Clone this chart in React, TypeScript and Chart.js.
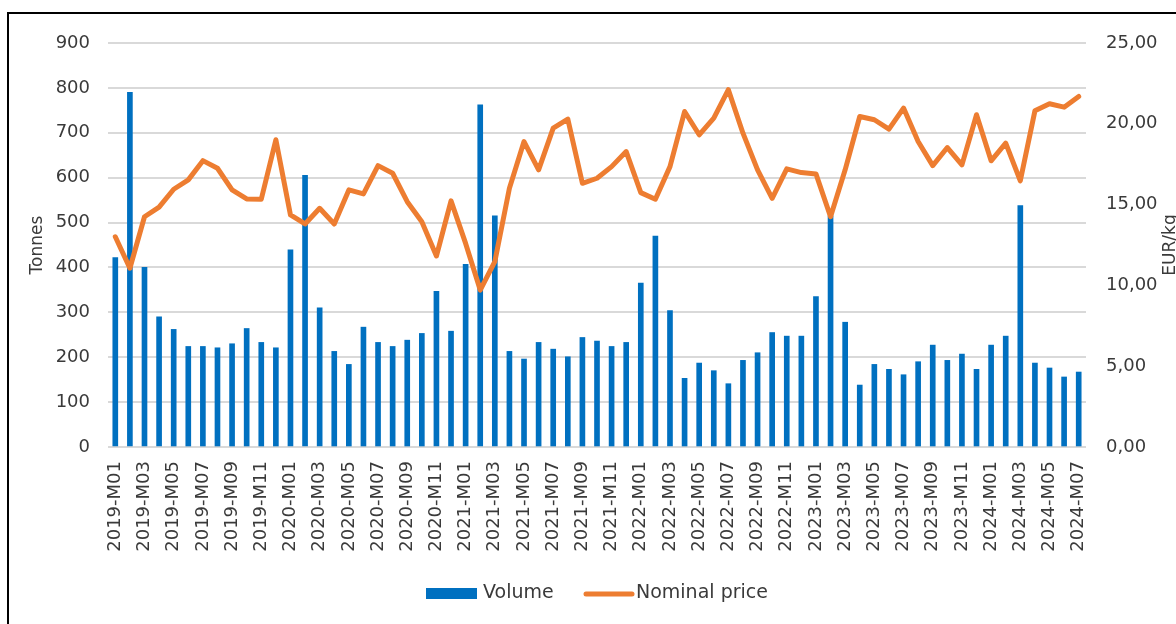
import React, { useEffect, useRef } from "react";
import { Chart, registerables } from "chart.js";

Chart.register(...registerables);

const categories: string[] = [
  "2019-M01","2019-M02","2019-M03","2019-M04","2019-M05","2019-M06","2019-M07","2019-M08","2019-M09","2019-M10","2019-M11","2019-M12",
  "2020-M01","2020-M02","2020-M03","2020-M04","2020-M05","2020-M06","2020-M07","2020-M08","2020-M09","2020-M10","2020-M11","2020-M12",
  "2021-M01","2021-M02","2021-M03","2021-M04","2021-M05","2021-M06","2021-M07","2021-M08","2021-M09","2021-M10","2021-M11","2021-M12",
  "2022-M01","2022-M02","2022-M03","2022-M04","2022-M05","2022-M06","2022-M07","2022-M08","2022-M09","2022-M10","2022-M11","2022-M12",
  "2023-M01","2023-M02","2023-M03","2023-M04","2023-M05","2023-M06","2023-M07","2023-M08","2023-M09","2023-M10","2023-M11","2023-M12",
  "2024-M01","2024-M02","2024-M03","2024-M04","2024-M05","2024-M06","2024-M07",
];

const volume: number[] = [
  422, 790, 400, 290, 262, 224, 224, 221, 230, 264, 233, 221,
  439, 605, 310, 213, 184, 267, 233, 224, 238, 253, 347, 258,
  407, 762, 515, 213, 196, 233, 218, 201, 244, 236, 224, 233,
  365, 470, 304, 153, 187, 170, 141, 193, 210, 255, 247, 247,
  335, 515, 278, 138, 184, 173, 161, 190, 227, 193, 207, 173,
  227, 247, 538, 187, 176, 156, 167,
];

const nominalPrice: number[] = [
  13.01, 11.06, 14.25, 14.84, 15.95, 16.53, 17.72, 17.25, 15.91, 15.35, 15.33, 19.01,
  14.36, 13.8, 14.77, 13.8, 15.91, 15.66, 17.41, 16.94, 15.18, 13.94, 11.82, 15.23,
  12.6, 9.71, 11.47, 16.01, 18.9, 17.15, 19.73, 20.29, 16.32, 16.63, 17.35, 18.28,
  15.74, 15.33, 17.35, 20.76, 19.32, 20.35, 22.11, 19.42, 17.15, 15.39, 17.21, 16.98,
  16.9, 14.25, 17.15, 20.45, 20.25, 19.67, 20.97, 18.9, 17.41, 18.53, 17.46, 20.56,
  17.71, 18.8, 16.47, 20.8, 21.24, 21.03, 21.69,
];

const leftTitle = "Tonnes";
const rightTitle = "EUR/kg";
const volumeLabel = "Volume";
const priceLabel = "Nominal price";

const BLUE = "#0070c0";
const ORANGE = "#ed7d31";
const TEXT = "#3a3a3a";
const GRID = "#d9d9d9";
const FONT = "'DejaVu Sans', sans-serif";

const decorPlugin = {
  id: "decor",
  afterDraw(chart: any) {
    const ctx = chart.ctx as CanvasRenderingContext2D;
    const area = chart.chartArea;
    const midY = (area.top + area.bottom) / 2;
    ctx.save();
    ctx.fillStyle = TEXT;
    ctx.font = `17px ${FONT}`;
    ctx.textAlign = "center";
    ctx.textBaseline = "alphabetic";
    // left title
    ctx.save();
    ctx.translate(42, midY);
    ctx.rotate(-Math.PI / 2);
    ctx.fillText(leftTitle, 0, 0);
    ctx.restore();
    // right title
    ctx.save();
    ctx.translate(1175, midY);
    ctx.rotate(-Math.PI / 2);
    ctx.fillText(rightTitle, 0, 0);
    ctx.restore();

    // legend
    const ly = 593;
    ctx.fillStyle = BLUE;
    ctx.fillRect(426, ly - 5, 51, 11);
    ctx.fillStyle = TEXT;
    ctx.font = `19px ${FONT}`;
    ctx.textAlign = "left";
    ctx.textBaseline = "middle";
    ctx.fillText(volumeLabel, 483, ly);
    ctx.strokeStyle = ORANGE;
    ctx.lineWidth = 5;
    ctx.lineCap = "round";
    ctx.beginPath();
    ctx.moveTo(586, ly + 1);
    ctx.lineTo(632, ly + 1);
    ctx.stroke();
    ctx.fillText(priceLabel, 636, ly);
    ctx.restore();
  },
};

export default function App() {
  const canvasRef = useRef<HTMLCanvasElement | null>(null);

  useEffect(() => {
    const canvas = canvasRef.current;
    if (!canvas) return;
    const chart = new Chart(canvas, {
      type: "bar",
      data: {
        labels: categories,
        datasets: [
          {
            type: "line",
            label: priceLabel,
            data: nominalPrice,
            yAxisID: "y1",
            borderColor: ORANGE,
            backgroundColor: ORANGE,
            borderWidth: 5,
            pointRadius: 0,
            tension: 0,
            borderJoinStyle: "round",
            borderCapStyle: "round",
            order: 0,
          } as any,
          {
            type: "bar",
            label: volumeLabel,
            data: volume,
            yAxisID: "y",
            backgroundColor: BLUE,
            barThickness: 5,
            order: 1,
          } as any,
        ],
      },
      options: {
        responsive: false,
        animation: false,
        devicePixelRatio: 1,
        layout: { padding: { top: 43, left: 0, right: 0, bottom: 0 } },
        plugins: {
          legend: { display: false },
          tooltip: { enabled: false },
        },
        scales: {
          x: {
            offset: true,
            grid: { display: false, drawTicks: false },
            border: { display: false },
            ticks: {
              autoSkip: false,
              maxRotation: 90,
              minRotation: 90,
              padding: 14,
              color: TEXT,
              font: { family: FONT, size: 18 },
              callback: (_v: any, i: number) => (i % 2 === 0 ? categories[i] : ""),
            },
            afterFit: (s: any) => {
              s.height = 177;
            },
          },
          y: {
            position: "left",
            min: 0,
            max: 900,
            grid: { color: GRID, lineWidth: 2, drawTicks: false },
            border: { display: false },
            ticks: {
              stepSize: 100,
              padding: 18,
              color: TEXT,
              font: { family: FONT, size: 18 },
            },
            afterFit: (s: any) => {
              s.width = 108;
            },
          },
          y1: {
            position: "right",
            min: 0,
            max: 25,
            grid: { display: false, drawTicks: false },
            border: { display: false },
            ticks: {
              stepSize: 5,
              padding: 20,
              color: TEXT,
              font: { family: FONT, size: 18 },
              callback: (v: any) => Number(v).toFixed(2).replace(".", ","),
            },
            afterFit: (s: any) => {
              s.width = 90;
            },
          },
        },
      } as any,
      plugins: [decorPlugin],
    });
    return () => chart.destroy();
  }, []);

  return (
    <>
      <div
        style={{
          position: "fixed",
          left: 7,
          top: 12,
          right: -20,
          bottom: -20,
          border: "2px solid #000",
        }}
      />
      <canvas
        ref={canvasRef}
        width={1176}
        height={624}
        style={{ position: "fixed", left: 0, top: 0, width: 1176, height: 624 }}
      />
    </>
  );
}
